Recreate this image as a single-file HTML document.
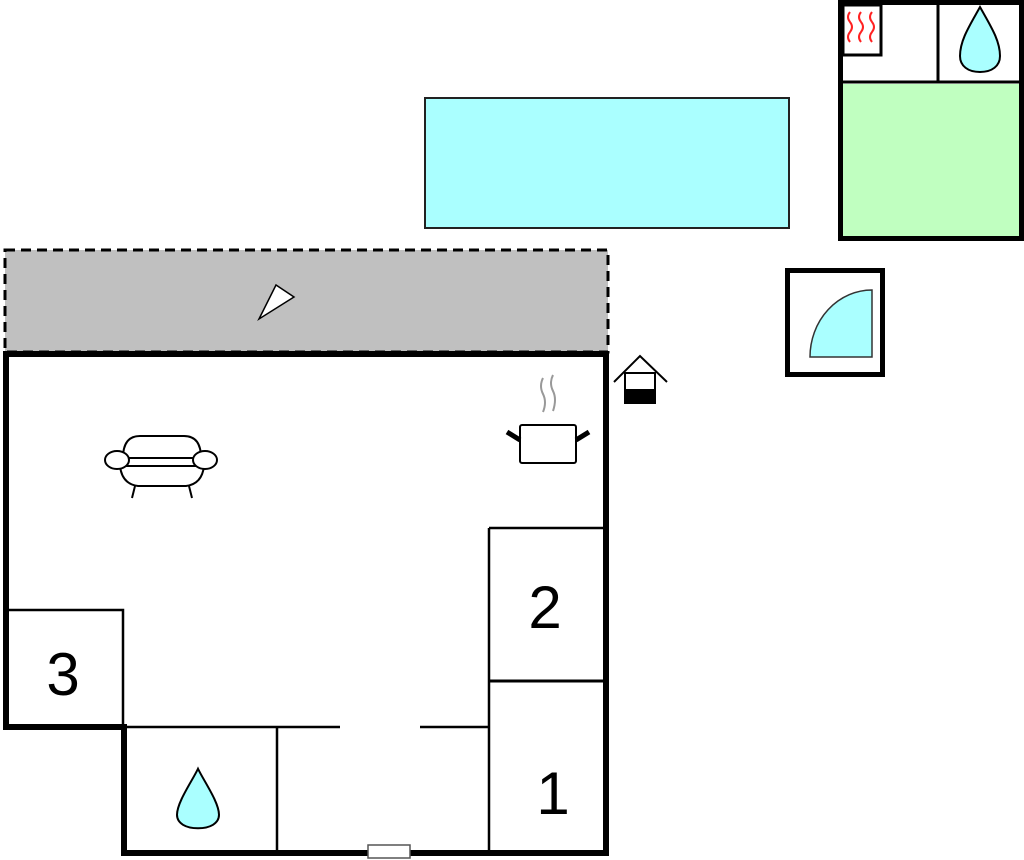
<!DOCTYPE html>
<html><head><style>body{margin:0;background:#fff}svg{display:block}</style></head>
<body>
<svg width="1024" height="860" viewBox="0 0 1024 860" xmlns="http://www.w3.org/2000/svg" font-family="Liberation Sans, sans-serif">
<!-- pool -->
<rect x="425" y="98" width="364" height="130" fill="#aaffff" stroke="#222" stroke-width="2"/>
<!-- right building -->
<rect x="840.5" y="2.5" width="181" height="236" fill="#fff" stroke="#000" stroke-width="5"/>
<rect x="843" y="84" width="176" height="152" fill="#c0ffc0"/>
<line x1="843" y1="82" x2="1019" y2="82" stroke="#000" stroke-width="3"/>
<line x1="938" y1="5" x2="938" y2="82" stroke="#000" stroke-width="3"/>
<rect x="843" y="5" width="38" height="50" fill="#fff" stroke="#000" stroke-width="3"/>
<g fill="none" stroke="#f22" stroke-width="2">
<path d="M850 12 q-4 5 0 10 q4 5 0 10 q-4 5 0 10"/>
<path d="M861 12 q-4 5 0 10 q4 5 0 10 q-4 5 0 10"/>
<path d="M872 12 q-4 5 0 10 q4 5 0 10 q-4 5 0 10"/>
</g>
<path d="M980 7 C970 25 960 40 960 56 C960 66 968 72 980 72 C992 72 1000 66 1000 56 C1000 40 990 25 980 7 Z" fill="#aaffff" stroke="#000" stroke-width="2"/>
<!-- shower -->
<rect x="787.5" y="270.5" width="95" height="104" fill="#fff" stroke="#000" stroke-width="5"/>
<path d="M810 357 L872 357 L872 290 A62 67 0 0 0 810 357 Z" fill="#aaffff" stroke="#333" stroke-width="1.5"/>
<!-- terrace -->
<rect x="5" y="250" width="603" height="102" fill="#c0c0c0" stroke="#000" stroke-width="3" stroke-dasharray="10,6"/>
<path d="M259 319 L276 285 L294 297 Z" fill="#fff" stroke="#000" stroke-width="1.5"/>
<!-- main building -->
<rect x="6" y="354" width="600" height="373" fill="#fff"/>
<rect x="124" y="727" width="482" height="126" fill="#fff"/>
<path d="M6 354 L606 354 L606 853 L124 853 L124 727 L6 727 Z" fill="none" stroke="#000" stroke-width="6"/>
<g stroke="#000" stroke-width="2.5" fill="none">
<path d="M6 610 L123 610 L123 727"/>
<line x1="124" y1="727" x2="340" y2="727"/>
<line x1="420" y1="727" x2="490" y2="727"/>
<line x1="277" y1="727" x2="277" y2="853"/>
<line x1="489" y1="528" x2="489" y2="853"/>
<line x1="489" y1="528" x2="606" y2="528"/>
<line x1="489" y1="681" x2="606" y2="681" stroke-width="3"/>
</g>
<rect x="368" y="845" width="42" height="13" fill="#fff" stroke="#555" stroke-width="1.5"/>
<text x="545" y="628" font-size="60" text-anchor="middle">2</text>
<text x="63" y="695" font-size="60" text-anchor="middle">3</text>
<text x="553" y="814" font-size="60" text-anchor="middle">1</text>
<path d="M198 795 C192 808 177 830 177 843 C177 852 186 857 198 857 C210 857 219 852 219 843 C219 830 204 808 198 795 Z" fill="#aaffff" stroke="#000" stroke-width="2" transform="translate(0,-30) scale(1,0.96) translate(0,37)"/>
<!-- sofa -->
<g fill="#fff" stroke="#000" stroke-width="2">
<path d="M123 458 Q123 436 140 436 L184 436 Q201 436 201 458 Z"/>
<path d="M120 466 Q122 484 138 486 L186 486 Q202 484 204 466 Z"/>
<ellipse cx="117" cy="460" rx="12" ry="9"/>
<ellipse cx="205" cy="460" rx="12" ry="9"/>
<line x1="129" y1="466" x2="195" y2="466"/>
<line x1="135" y1="486" x2="132" y2="498"/>
<line x1="189" y1="486" x2="192" y2="498"/>
</g>
<!-- pot -->
<g fill="none" stroke="#999" stroke-width="2">
<path d="M543 378 q-4 8 0 16 q4 8 0 18"/>
<path d="M553 375 q-4 8 0 16 q4 8 0 20"/>
</g>
<rect x="520" y="425" width="56" height="38" rx="2" fill="#fff" stroke="#000" stroke-width="2"/>
<path d="M507 432 L520 440 M589 432 L576 440" stroke="#000" stroke-width="5"/>
<!-- house icon -->
<path d="M614 382 L640 356 L667 382" fill="none" stroke="#000" stroke-width="2"/>
<rect x="625" y="373" width="30" height="30" fill="#fff" stroke="#000" stroke-width="2"/>
<rect x="625" y="389" width="30" height="14" fill="#000"/>
</svg>
</body></html>
